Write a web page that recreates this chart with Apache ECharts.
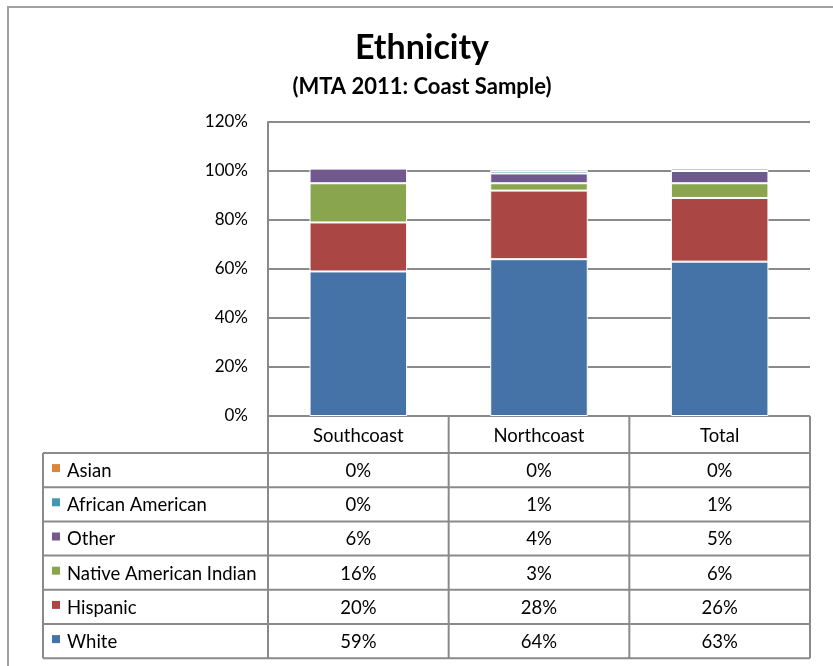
<!DOCTYPE html>
<html>
<head>
<meta charset="utf-8">
<title>Ethnicity</title>
<script src="https://cdn.jsdelivr.net/npm/echarts@6/dist/echarts.min.js"></script>
<style>
  html, body { margin: 0; padding: 0; background: #fff; }
  #chart { width: 833px; height: 666px; }
</style>
</head>
<body>
<div id="chart"></div>
<script>
// Regions on the x axis
const categories = ['Southcoast', 'Northcoast', 'Total'];

// Share of each ethnic group per region (percent), stacked bottom to top
const white = [59, 64, 63];
const hispanic = [20, 28, 26];
const nativeAmerican = [16, 3, 6];
const other = [6, 4, 5];
const africanAmerican = [0, 1, 1];
const asian = [0, 0, 0];

// Y axis tick settings (percent)
const yMin = 0;
const yMax = 120;
const yStep = 20;

const seriesDefs = [
  { name: 'White', data: white, color: '#4572A7' },
  { name: 'Hispanic', data: hispanic, color: '#AA4643' },
  { name: 'Native American Indian', data: nativeAmerican, color: '#89A54E' },
  { name: 'Other', data: other, color: '#71588F' },
  { name: 'African American', data: africanAmerican, color: '#4198AF' },
  { name: 'Asian', data: asian, color: '#DB843D' }
];

const FONT = 'Lato, "Open Sans", sans-serif';
const LINE = '#8a8a8a';

const chart = echarts.init(document.getElementById('chart'), null, { renderer: 'canvas' });

const option = {
  animation: false,
  backgroundColor: '#fff',
  grid: { left: 268, right: 23, top: 122, bottom: 250, containLabel: false },
  xAxis: {
    type: 'category',
    data: categories,
    axisLabel: { show: false },
    axisTick: { show: false },
    axisLine: { show: false }
  },
  yAxis: {
    type: 'value',
    min: yMin,
    max: yMax,
    interval: yStep,
    axisLabel: {
      formatter: '{value}%',
      fontFamily: FONT,
      fontSize: 17,
      color: '#000',
      margin: 20
    },
    axisLine: { show: true, lineStyle: { color: LINE, width: 2 } },
    axisTick: { show: false },
    splitLine: { lineStyle: { color: LINE, width: 2 } }
  },
  series: seriesDefs.map(s => ({
    name: s.name,
    type: 'bar',
    stack: 'ethnicity',
    barWidth: '54%',
    data: s.data,
    itemStyle: { color: s.color, borderColor: '#fff', borderWidth: 1 },
    emphasis: { disabled: true }
  }))
};

chart.setOption(option);

// Data table under the plot: header row with region names, then one row per group
function buildTable() {
  const x0 = chart.convertToPixel({ xAxisIndex: 0 }, 0);
  const x1 = chart.convertToPixel({ xAxisIndex: 0 }, 1);
  const band = x1 - x0;
  const yBase = chart.convertToPixel({ yAxisIndex: 0 }, 0);
  const colEdges = categories.map((_, i) => chart.convertToPixel({ xAxisIndex: 0 }, i) - band / 2);
  colEdges.push(colEdges[colEdges.length - 1] + band);
  const tableLeft = 43;
  const headerH = 37;
  const rowH = 34.2;
  const rowsTop = yBase + headerH;
  const rows = seriesDefs.slice().reverse();
  const tableBottom = rowsTop + rows.length * rowH;
  const cellFont = '18.5px ' + FONT;

  const els = [];
  const line = (xa, ya, xb, yb) => els.push({
    type: 'line', silent: true,
    shape: { x1: xa, y1: ya, x2: xb, y2: yb },
    style: { stroke: LINE, lineWidth: 2 }
  });

  // Grid lines of the table
  line(colEdges[0], yBase, colEdges[colEdges.length - 1], yBase);
  colEdges.forEach(x => line(x, yBase, x, tableBottom));
  line(tableLeft, rowsTop, tableLeft, tableBottom);
  for (let r = 0; r <= rows.length; r++) {
    line(tableLeft, rowsTop + r * rowH, colEdges[colEdges.length - 1], rowsTop + r * rowH);
  }

  categories.forEach((c, i) => {
    els.push({
      type: 'text', silent: true,
      style: {
        x: (colEdges[i] + colEdges[i + 1]) / 2, y: yBase + headerH / 2 + 2,
        text: c, align: 'center', verticalAlign: 'middle',
        font: cellFont, fill: '#000'
      }
    });
  });

  rows.forEach((s, r) => {
    const cy = rowsTop + r * rowH + rowH / 2;
    els.push({
      type: 'rect', silent: true,
      shape: { x: 52, y: cy - 6, width: 8, height: 8 },
      style: { fill: s.color }
    });
    els.push({
      type: 'text', silent: true,
      style: {
        x: 67, y: cy + 1, text: s.name, align: 'left', verticalAlign: 'middle',
        font: cellFont, fill: '#000'
      }
    });
    s.data.forEach((v, i) => {
      els.push({
        type: 'text', silent: true,
        style: {
          x: (colEdges[i] + colEdges[i + 1]) / 2, y: cy + 1,
          text: v + '%', align: 'center', verticalAlign: 'middle',
          font: cellFont, fill: '#000'
        }
      });
    });
  });

  // Chart frame and titles
  els.push({
    type: 'rect', silent: true,
    shape: { x: 8, y: 7, width: 900, height: 800 },
    style: { fill: 'none', stroke: '#a0a0a0', lineWidth: 2 }
  });
  els.push({
    type: 'text', silent: true,
    style: {
      x: 422, y: 48, text: 'Ethnicity', align: 'center', verticalAlign: 'middle',
      font: 'bold 34px ' + FONT, fill: '#000'
    }
  });
  els.push({
    type: 'text', silent: true,
    style: {
      x: 422, y: 87, text: '(MTA 2011: Coast Sample)', align: 'center', verticalAlign: 'middle',
      font: 'bold 22px ' + FONT, fill: '#000'
    }
  });

  chart.setOption({ graphic: { elements: els } });
}

buildTable();
</script>
</body>
</html>
